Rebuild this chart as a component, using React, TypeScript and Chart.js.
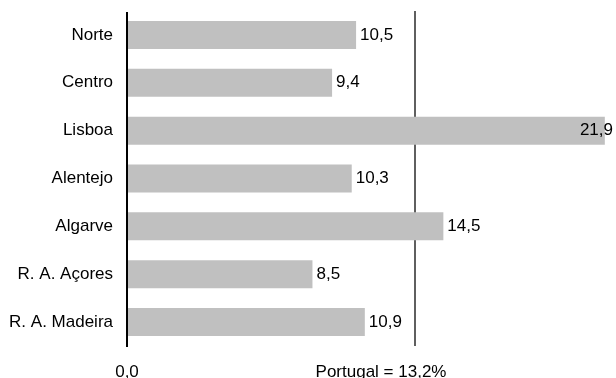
import React, { useEffect, useRef } from "react";
import { Chart, registerables } from "chart.js";

Chart.register(...registerables);

const categories = ["Norte", "Centro", "Lisboa", "Alentejo", "Algarve", "R. A. Açores", "R. A. Madeira"];
const values = [10.5, 9.4, 21.9, 10.3, 14.5, 8.5, 10.9];
const PORTUGAL = 13.2;
const xTickValues = [0, PORTUGAL];
const xTickLabels = ["0,0", "Portugal = 13,2%"];
const X_MAX = 22;

const FONT = "'Liberation Sans', Arial, sans-serif";
const FONT_SIZE = 17;
const fmt = (v: number) => v.toFixed(1).replace(".", ",");

const overlayPlugin = {
  id: "overlay",
  beforeDatasetsDraw(chart: any) {
    const ctx = chart.ctx;
    const xs = chart.scales.x;
    const area = chart.chartArea;
    const px = Math.round(xs.getPixelForValue(PORTUGAL));
    ctx.save();
    ctx.strokeStyle = "#5f5f5f";
    ctx.lineWidth = 2;
    ctx.beginPath();
    ctx.moveTo(px, area.top);
    ctx.lineTo(px, area.bottom);
    ctx.stroke();
    ctx.restore();
  },
  afterDatasetsDraw(chart: any) {
    const ctx = chart.ctx;
    const xs = chart.scales.x;
    const area = chart.chartArea;
    ctx.save();
    const ax = Math.round(xs.getPixelForValue(0));
    ctx.fillStyle = "#000";
    ctx.fillRect(ax - 1, area.top + 1, 2, area.bottom - area.top);

    ctx.font = `${FONT_SIZE}px ${FONT}`;
    ctx.textBaseline = "middle";
    ctx.textAlign = "left";
    const meta = chart.getDatasetMeta(0);
    meta.data.forEach((bar: any, i: number) => {
      const txt = fmt(values[i]);
      const w = ctx.measureText(txt).width;
      let x = bar.x + 4;
      if (x + w > chart.width - 3) x = chart.width - 3 - w;
      ctx.fillText(txt, x, bar.y);
    });

    ctx.textAlign = "center";
    ctx.textBaseline = "alphabetic";
    xTickValues.forEach((v, i) => {
      let x = xs.getPixelForValue(v);
      if (i === 1) x -= 34;
      ctx.fillText(xTickLabels[i], x, 377);
    });
    ctx.restore();
  },
};

export default function App() {
  const ref = useRef<HTMLCanvasElement | null>(null);
  useEffect(() => {
    if (!ref.current) return;
    const chart = new Chart(ref.current, {
      type: "bar",
      data: {
        labels: categories,
        datasets: [
          {
            data: values,
            backgroundColor: "#c0c0c0",
            borderWidth: 0,
            categoryPercentage: 1,
            barPercentage: 0.585,
          },
        ],
      },
      options: {
        indexAxis: "y",
        animation: false,
        responsive: true,
        maintainAspectRatio: false,
        layout: { padding: { top: 11, bottom: 32, right: 9, left: 0 } },
        plugins: { legend: { display: false }, tooltip: { enabled: false } },
        scales: {
          x: {
            display: false,
            min: 0,
            max: X_MAX,
          },
          y: {
            afterFit: (s: any) => {
              s.width = 127;
              s.paddingTop = 0;
              s.paddingBottom = 0;
            },
            grid: { display: false, drawTicks: false },
            border: { display: false },
            ticks: {
              padding: 14,
              color: "#000",
              font: { family: FONT, size: FONT_SIZE },
            },
          },
        },
      },
      plugins: [overlayPlugin],
    });
    return () => chart.destroy();
  }, []);
  return (
    <div style={{ position: "absolute", left: 0, top: 0, width: 616, height: 378, background: "#fff" }}>
      <canvas ref={ref} />
    </div>
  );
}
